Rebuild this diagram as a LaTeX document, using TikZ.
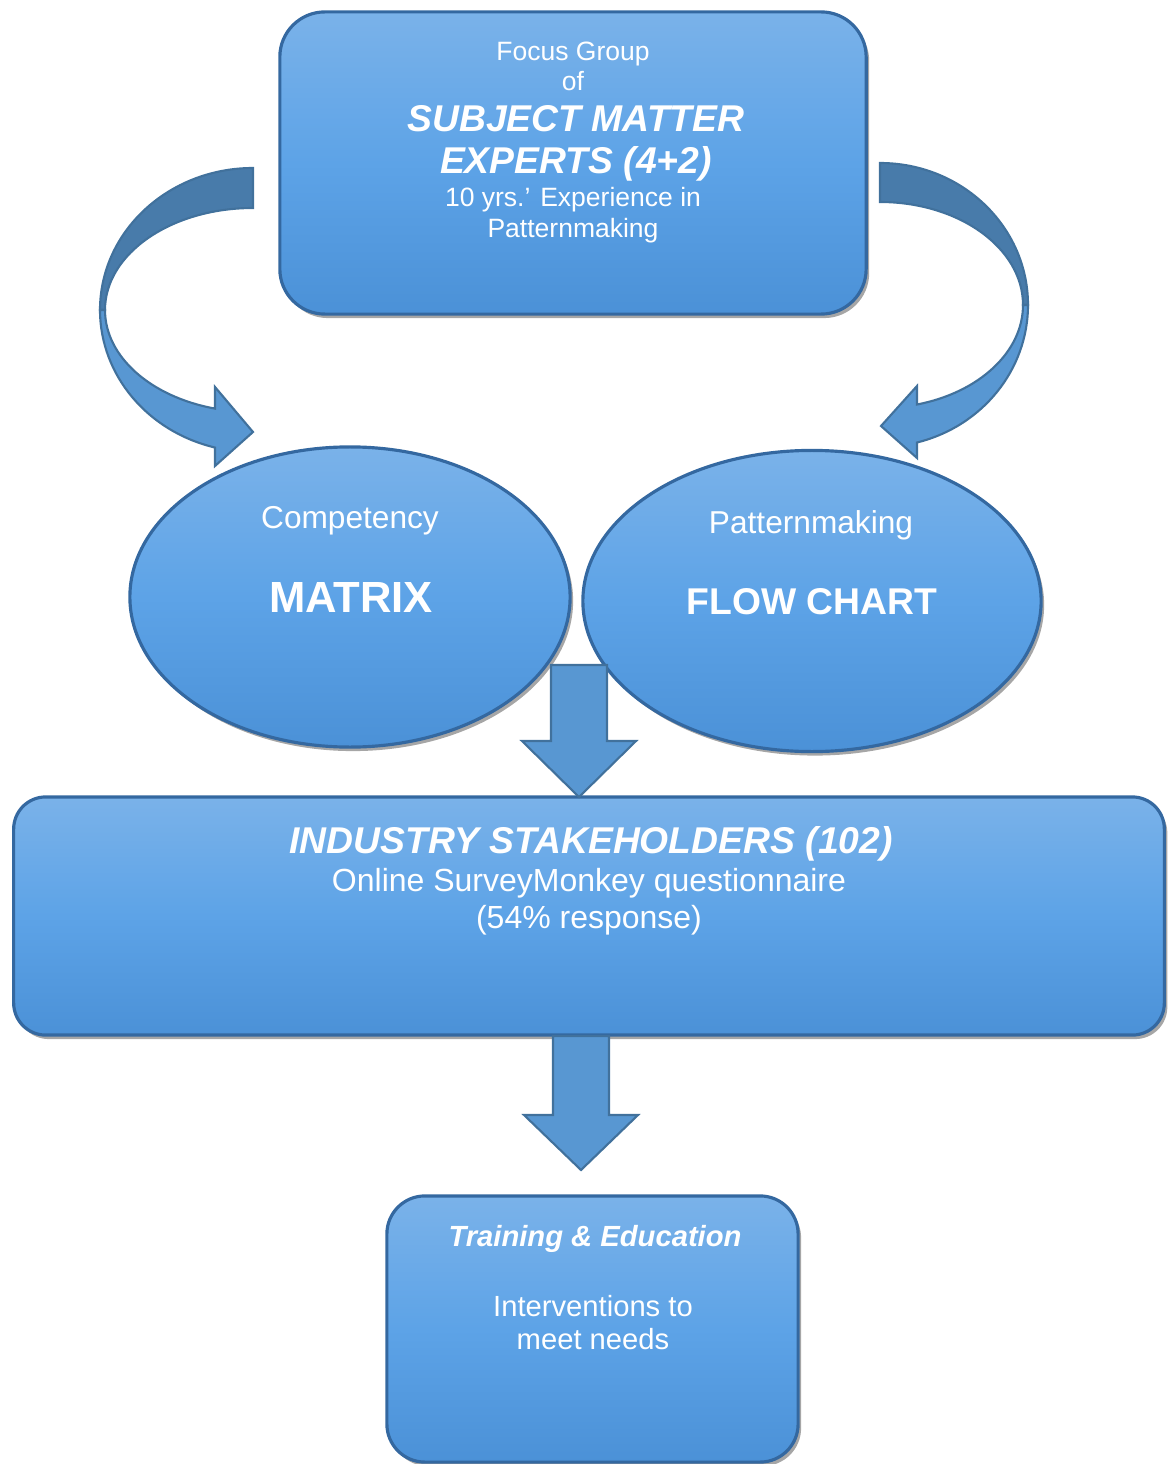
\documentclass[tikz,border=0pt]{standalone}
\usepackage{fontspec}
\setmainfont{Liberation Sans}
\usetikzlibrary{shapes.geometric,shadows}
\definecolor{boxtop}{HTML}{7AB2E9}
\definecolor{boxmid}{HTML}{5DA3E7}
\definecolor{boxbot}{HTML}{4B91D7}
\definecolor{rim}{HTML}{3468A0}
\definecolor{arrowfill}{HTML}{5897D2}
\definecolor{arrowdark}{HTML}{487BAA}
\definecolor{arrowline}{HTML}{41719C}
\newcommand\myfs[1]{\fontsize{#1}{#1}\selectfont}
\begin{document}
\begin{tikzpicture}[x=0.01cm,y=-0.01cm,
  panel/.style={draw=rim, line width=0.9pt, top color=boxtop, bottom color=boxbot, middle color=boxmid, inner sep=0pt,
    drop shadow={shadow xshift=0.03cm, shadow yshift=-0.04cm, opacity=0.35, fill=black}},
  oval/.style={panel, ellipse},
  txt/.style={text=white, inner sep=0pt, anchor=base},
  flat/.style={fill=arrowfill, draw=arrowline, line width=0.6pt, line join=miter},
  flatdark/.style={fill=arrowdark, draw=arrowline, line width=0.6pt}]
\useasboundingbox (0,0) rectangle (1173,1464);

% curved arrows
\path[flatdark] (253,168) arc[start angle=-90, end angle=-180, x radius=153, y radius=142]
  -- (105,310) arc[start angle=180, end angle=270, x radius=148, y radius=102] -- cycle;
\path[flat] (100,310) arc[start angle=180, end angle=104.38, x radius=153, y radius=142]
  -- (215,466) -- (253,432) -- (215,387) -- (215,408.6)
  arc[start angle=104.88, end angle=180, x radius=148, y radius=102] -- cycle;

\path[flatdark] (880,163) arc[start angle=-90, end angle=0, x radius=148, y radius=142]
  -- (1023,305) arc[start angle=0, end angle=-90, x radius=143, y radius=103] -- cycle;
\path[flat] (1028,305) arc[start angle=0, end angle=75.52, x radius=148, y radius=142]
  -- (917,458) -- (881,426) -- (917,386) -- (917,404.5)
  arc[start angle=75.0, end angle=0, x radius=143, y radius=103] -- cycle;

% boxes
\node[panel, rounded corners=0.45cm, minimum width=5.86cm, minimum height=3.02cm] (sme) at (573,163) {};
\node[oval, minimum width=4.4cm, minimum height=3.0cm] (matrix) at (350,597) {};
\node[oval, minimum width=4.58cm, minimum height=3.01cm] (flow) at (812,601) {};
\node[panel, rounded corners=0.32cm, minimum width=11.5cm, minimum height=2.38cm] (ind) at (589,916) {};
\node[panel, rounded corners=0.38cm, minimum width=4.11cm, minimum height=2.66cm] (train) at (592.5,1329) {};

% straight arrows
\path[flat] (551,665) -- (607,665) -- (607,741) -- (636,741) -- (579,797) -- (522,741) -- (551,741) -- cycle;
\path[flat] (553,1036) -- (609,1036) -- (609,1115) -- (638,1115) -- (581,1170) -- (524,1115) -- (553,1115) -- cycle;

% texts
\node[txt] at (573,61) {\myfs{7.54}Focus Group};
\node[txt] at (573,91) {\myfs{7.54}of};
\node[txt] at (576,132) {\myfs{10.6}\bfseries\itshape SUBJECT MATTER};
\node[txt] at (576,174) {\myfs{10.6}\bfseries\itshape EXPERTS (4+2)};
\node[txt] at (573,207) {\myfs{7.54}10 yrs.’ Experience in};
\node[txt] at (573,238) {\myfs{7.54}Patternmaking};

\node[txt] at (350,528) {\myfs{9}Competency};
\node[txt] at (351,612) {\myfs{12.4}\bfseries MATRIX};
\node[txt] at (811,533) {\myfs{9}Patternmaking};
\node[txt] at (812,614) {\myfs{10.6}\bfseries FLOW CHART};

\node[txt] at (591,853) {\myfs{10.6}\bfseries\itshape INDUSTRY STAKEHOLDERS (102)};
\node[txt] at (589,891) {\myfs{9.1}Online SurveyMonkey questionnaire};
\node[txt] at (589,928) {\myfs{9.1}(54\% response)};

\node[txt] at (595,1246) {\myfs{8.3}\bfseries\itshape Training \& Education};
\node[txt] at (593,1316) {\myfs{8.3}Interventions to};
\node[txt] at (593,1349) {\myfs{8.3}meet needs};
\end{tikzpicture}
\end{document}
